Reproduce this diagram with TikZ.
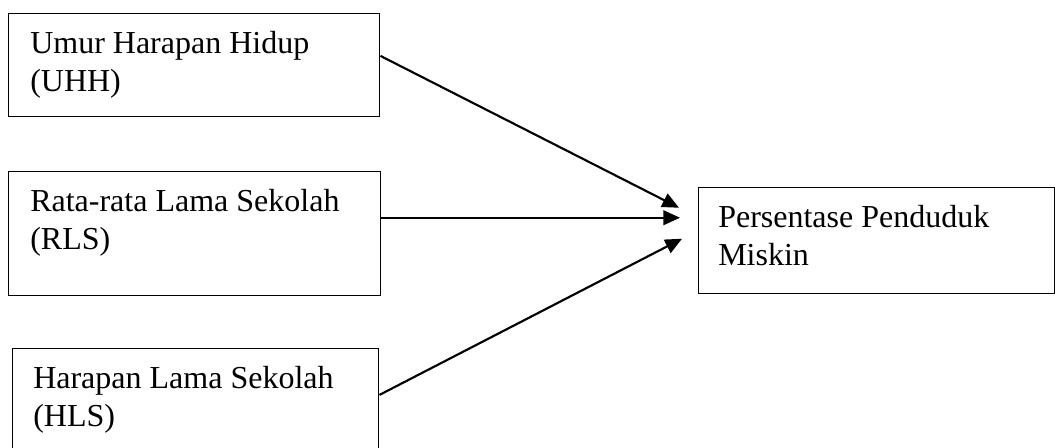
\documentclass[tikz,border=0pt]{standalone}
\usepackage{fontspec}
\setmainfont{Liberation Serif}
\usetikzlibrary{arrows.meta}
\begin{document}
\begin{tikzpicture}[x=0.75pt,y=-0.75pt]
        % Define styles for nodes and arrows
        \tikzstyle{var} = [rectangle, draw=black, line width=1.1pt, anchor=north west, inner sep=0pt]
        \tikzstyle{boxtext} = [anchor=north west, inner sep=0pt, align=left, font=\fontsize{24}{28.5}\selectfont]
        \tikzstyle{arrow} = [line width=1.6pt, -{Triangle[length=12.5pt, width=11pt]}]

        \useasboundingbox (0,0) rectangle (1055,447);

        \node (uhh) [var, minimum width=278.25pt, minimum height=77.25pt] at (8,13) {};
        \node (rls) [var, minimum width=279pt, minimum height=93pt] at (8,171) {};
        \node (hls) [var, minimum width=274.5pt, minimum height=77.25pt] at (12,348) {};
        \node (ppm) [var, minimum width=267pt, minimum height=79.5pt] at (698,187) {};

        \node (uhhtext) [boxtext] at ([xshift=16.5pt, yshift=-13.5pt]uhh.north west) {Umur Harapan Hidup\\(UHH)};
        \node (rlstext) [boxtext] at ([xshift=16.5pt, yshift=-13.5pt]rls.north west) {Rata-rata Lama Sekolah\\(RLS)};
        \node (hlstext) [boxtext] at ([xshift=15.75pt, yshift=-13.5pt]hls.north west) {Harapan Lama Sekolah\\(HLS)};
        \node (ppmtext) [boxtext] at ([xshift=15pt, yshift=-13.5pt]ppm.north west) {Persentase Penduduk\\Miskin};

        % Arrows
        \draw [arrow] ([yshift=7pt]uhh.east) -- ([xshift=-14.25pt, yshift=24.75pt]ppm.west);
        \draw [arrow] ([yshift=12pt]rls.east) -- ([xshift=-13.5pt, yshift=17.25pt]ppm.west);
        \draw [arrow] ([yshift=4pt]hls.east) -- ([xshift=-12pt, yshift=1.5pt]ppm.west);
\end{tikzpicture}
\end{document}
